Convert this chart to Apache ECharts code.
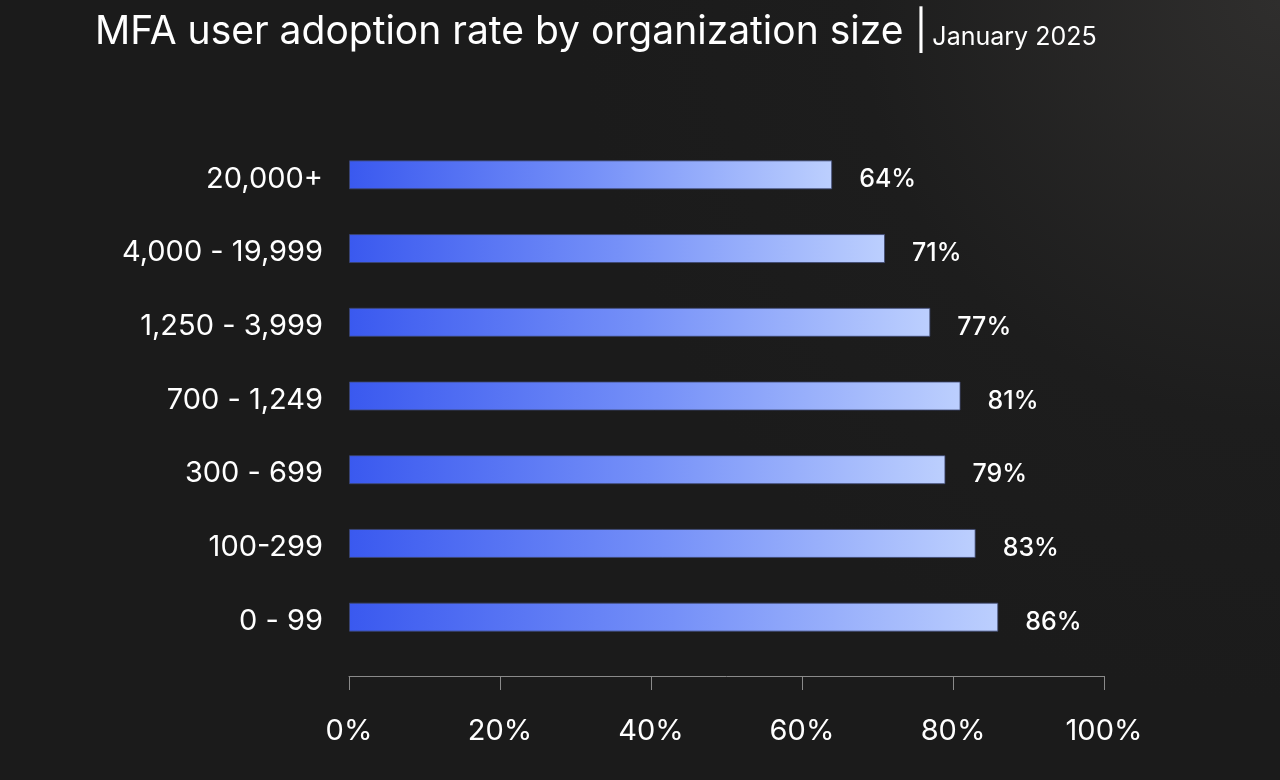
<!DOCTYPE html>
<html><head><meta charset="utf-8">
<script src="https://cdn.jsdelivr.net/npm/echarts@6/dist/echarts.min.js"></script>
<style>html,body{margin:0;padding:0;background:#1b1b1b}#c{width:1280px;height:780px}</style>
</head><body><div id="c"></div>
<script>
const categories = ['0 - 99','100-299','300 - 699','700 - 1,249','1,250 - 3,999','4,000 - 19,999','20,000+'];
const values = [86, 83, 79, 81, 77, 71, 64];
const xTicks = [0, 20, 40, 60, 80, 100];
const FONT = 'Inter';
const chart = echarts.init(document.getElementById('c'));
chart.setOption({
  backgroundColor: {type:'radial', x:1, y:0, r:0.9, colorStops:[{offset:0,color:'#2f2e2d'},{offset:0.6,color:'#1d1d1d'},{offset:1,color:'#1b1b1b'}]},
  title: {
    left: 95, top: 13, padding: 0,
    text: '{a|MFA user adoption rate by organization size |} {b|January 2025}',
    textStyle: {rich: {
      a: {fontFamily: FONT, fontSize: 39, color: '#ffffff', fontWeight: 400},
      b: {fontFamily: FONT, fontSize: 25, color: '#ffffff', fontWeight: 400, padding:[9,0,0,0]}
    }}
  },
  grid: {left: 349, right: 176, top: 138, bottom: 126, containLabel: false},
  xAxis: {
    type: 'value', min: 0, max: 100, interval: 20, offset: 22,
    axisLine: {show: true, lineStyle: {color: '#8a8a8a', width: 1}},
    axisTick: {show: true, length: 14, inside: false, lineStyle: {color: '#8a8a8a'}},
    splitLine: {show: false},
    axisLabel: {color: '#ffffff', fontFamily: FONT, fontSize: 29, margin: 41,
      formatter: v => xTicks.includes(v) ? v + '%' : ''}
  },
  yAxis: {
    type: 'category', data: categories,
    axisLine: {show: false}, axisTick: {show: false},
    axisLabel: {color: '#ffffff', fontFamily: FONT, fontSize: 29, margin: 26,
      formatter: v => '{a|' + v + '}',
      rich: {a: {fontFamily: FONT, fontSize: 29, color: '#ffffff', padding: [8,0,0,0]}}}
  },
  series: [{
    type: 'bar', data: values, barWidth: 29,
    itemStyle: {
      color: {type:'linear', x:0, y:0, x2:1, y2:0, colorStops:[{offset:0,color:'#3a59ef'},{offset:0.5,color:'#7590f8'},{offset:1,color:'#bccffe'}]},
      borderColor: 'rgba(60,70,110,0.8)', borderWidth: 1
    },
    label: {show: true, position: 'right', distance: 27, offset: [0, 5], color: '#ffffff', fontFamily: FONT, fontSize: 25, fontWeight: 500, formatter: p => p.value + '%'}
  }]
});
</script></body></html>
